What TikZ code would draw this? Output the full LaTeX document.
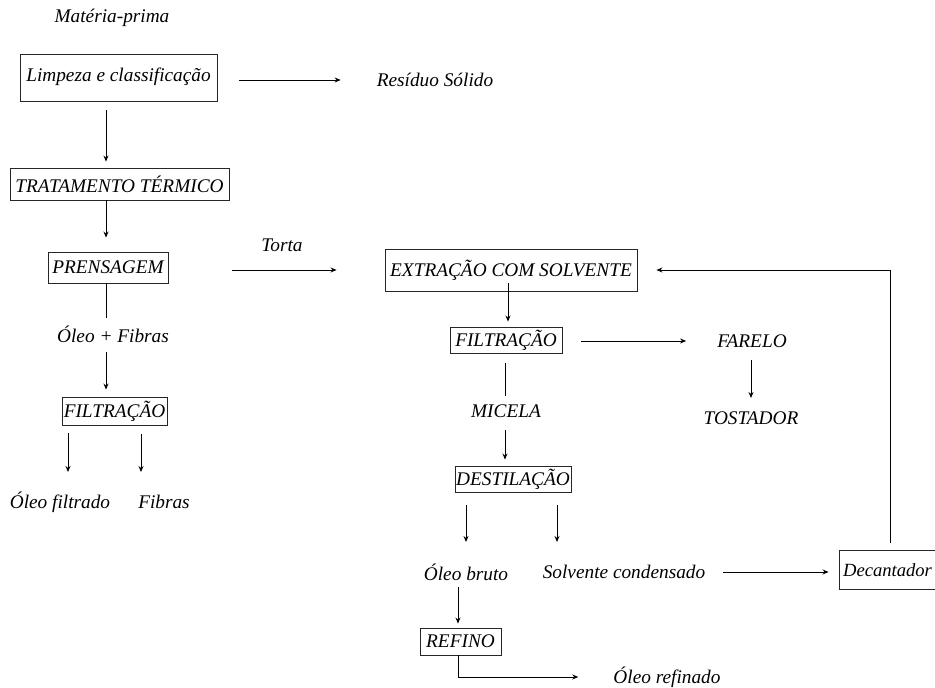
\documentclass[tikz,border=0pt]{standalone}
\usepackage{fontspec}
\setmainfont{Liberation Serif}
\usetikzlibrary{arrows.meta}
\begin{document}
\begin{tikzpicture}[x=1pt,y=-1pt,
  every node/.style={font=\fontsize{19.3}{21}\selectfont\itshape},
  box/.style={draw=black!85, line width=0.9pt, inner sep=0pt, align=center},
  lbl/.style={inner sep=0pt},
  arr/.style={line width=0.8pt, -{Stealth[length=6pt,width=5pt]}},
  ln/.style={line width=0.8pt}]
\useasboundingbox (0,0) rectangle (935,688);
% named helper coordinates for vertical runs
\coordinate (spine) at (106,0);
\coordinate (xa) at (68,0);
\coordinate (xb) at (141,0);
\coordinate (xc) at (508,0);
\coordinate (xd) at (505,0);
\coordinate (xe) at (466,0);
\coordinate (xf) at (557,0);
\coordinate (xg) at (458,0);
\coordinate (xh) at (751,0);
\coordinate (xi) at (890,0);
% boxes
\node[box, minimum width=197, minimum height=47] (limp) at (118.5,77.5) {\raisebox{5pt}{Limpeza e classificação}};
\node[box, minimum width=219, minimum height=32] (trat) at (119.5,184) {TRATAMENTO TÉRMICO};
\node[box, minimum width=120, minimum height=31] (pren) at (108,267.5) {PRENSAGEM};
\node[box, minimum width=105, minimum height=28] (filt1) at (114.5,411) {FILTRAÇÃO};
\node[box, minimum width=252, minimum height=42] (extr) at (511,270) {EXTRAÇÃO COM SOLVENTE};
\node[box, minimum width=112, minimum height=26] (filt2) at (506,340.5) {FILTRAÇÃO};
\node[box, minimum width=116, minimum height=26] (dest) at (513,479) {DESTILAÇÃO};
\node[box, minimum width=81, minimum height=27] (refino) at (460.5,641.5) {REFINO};
\node[box, minimum width=104, minimum height=39] (decant) at (891,570) {{\fontsize{18.6}{20}\selectfont Decantador}\hspace*{7pt}};
% labels
\node[lbl] (mp) at (112,18) {Matéria-prima};
\node[lbl] (res) at (435,80) {Resíduo Sólido};
\node[lbl] (torta) at (282,245) {Torta};
\node[lbl] (oleofib) at (113,334) {Óleo + Fibras};
\node[lbl] (oleofilt) at (60,502) {Óleo filtrado};
\node[lbl] (fibras) at (164,502) {Fibras};
\node[lbl] (farelo) at (752,341) {FARELO};
\node[lbl] (tost) at (751,418) {TOSTADOR};
\node[lbl] (micela) at (506,411) {MICELA};
\node[lbl] (oleobruto) at (466,572) {Óleo bruto};
\node[lbl] (solv) at (624,572) {Solvente condensado};
\node[lbl] (oleoref) at (667,677) {Óleo refinado};
% connectors
\draw[arr, shorten <=22pt, shorten >=36pt] (limp.east |- res) -- (res.west);
\draw[arr, shorten <=9pt, shorten >=6pt] (limp.south -| spine) -- (trat.north -| spine);
\draw[arr, shorten >=14pt] (trat.south -| spine) -- (pren.north -| spine);
\draw[ln, shorten >=16pt] (pren.south -| spine) -- (oleofib.center -| spine);
\draw[arr, shorten <=18pt, shorten >=7pt] (oleofib.center -| spine) -- (filt1.north -| spine);
\draw[arr, shorten <=8pt, shorten >=30pt] (filt1.south -| xa) -- (oleofilt.center -| xa);
\draw[arr, shorten <=9pt, shorten >=30pt] (filt1.south -| xb) -- (fibras.center -| xb);
\draw[arr, shorten <=64pt, shorten >=48pt] (pren.east |- extr) -- (extr.west);
\draw[arr, shorten <=-8pt, shorten >=5.5pt] (extr.south -| xc) -- (filt2.north -| xc);
\draw[arr, shorten <=19pt, shorten >=31pt] (filt2.east |- farelo) -- (farelo.west);
\draw[arr, shorten <=19pt, shorten >=20pt] (farelo.center -| xh) -- (tost.center -| xh);
\draw[ln, shorten <=9.5pt, shorten >=15pt] (filt2.south -| xd) -- (micela.center -| xd);
\draw[arr, shorten <=19pt, shorten >=6pt] (micela.center -| xd) -- (dest.north -| xd);
\draw[arr, shorten <=13pt, shorten >=30pt] (dest.south -| xe) -- (oleobruto.center -| xe);
\draw[arr, shorten <=13pt, shorten >=30pt] (dest.south -| xf) -- (solv.center -| xf);
\draw[arr, shorten <=18pt, shorten >=10pt] (solv.east) -- (decant.west |- solv);
\draw[arr, shorten <=7pt, shorten >=19pt] (decant.north -| xi) |- (extr.east);
\draw[arr, shorten <=15pt, shorten >=4pt] (oleobruto.center -| xg) -- (refino.north -| xg);
\draw[arr, shorten >=35pt] (refino.south -| xg) |- (oleoref.west);
\end{tikzpicture}
\end{document}
